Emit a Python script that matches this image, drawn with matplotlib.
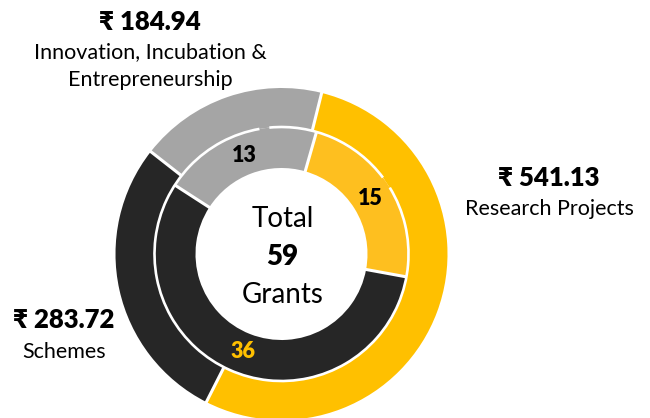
import numpy as np
import matplotlib
matplotlib.use('Agg')
from matplotlib import pyplot as plt
from matplotlib.patches import Arc

plt.rcParams['font.family'] = ['Lato', 'DejaVu Sans']

#### donnees
categories = ['Research Projects', 'Schemes', 'Innovation, Incubation &\nEntrepreneurship']
amounts = [541.13, 283.72, 184.94]   # outer ring (Rs)
grants = [15, 36, 13]                # inner ring (nb of grants)
total_grants = 59

outer_colors = ['#FFC000', '#262626', '#A5A5A5']
inner_colors = ['#FEBF1F', '#262626', '#A5A5A5']
grant_txt_colors = ['#000000', '#FFC000', '#000000']

W, H = 650, 418
fig = plt.figure(figsize=(W/100, H/100), dpi=100)
ax = fig.add_axes([0, 0, 1, 1])

cx, cy = 281.5, H - 254
R_out, R_mid, R_in = 166, 127, 86

w_out, _ = ax.pie(amounts, radius=R_out, center=(cx, cy), startangle=76, counterclock=False,
                  colors=outer_colors, frame=True,
                  wedgeprops=dict(width=R_out - R_mid, linewidth=0))
w_in, _ = ax.pie(grants, radius=R_mid, center=(cx, cy), startangle=74, counterclock=False,
                 colors=inner_colors, frame=True,
                 wedgeprops=dict(width=R_mid - R_in, linewidth=0))
ax.set_xlim(0, W)
ax.set_ylim(0, H)
ax.set_aspect('equal')
ax.axis('off')

# white separators between slices
def sep(wedges, r1, r2):
    for w in wedges:
        a = np.deg2rad(w.theta1)
        ax.plot([cx + r1*np.cos(a), cx + r2*np.cos(a)], [cy + r1*np.sin(a), cy + r2*np.sin(a)],
                color='white', linewidth=2.2, solid_capstyle='butt', zorder=4)
sep(w_out, R_mid, R_out + 3)
sep(w_in, R_in - 3, R_mid)

# white ring between the two donuts (with the two small breaks)
for t1, t2 in [(37, 95.5), (100, 391.5)]:
    ax.add_patch(Arc((cx, cy), 2*R_mid, 2*R_mid, theta1=t1, theta2=t2,
                     color='white', linewidth=1.9, zorder=5))

# counts in the inner ring
r_lab = 105
for w, g, c in zip(w_in, grants, grant_txt_colors):
    ang = np.deg2rad((w.theta1 + w.theta2) / 2)
    ax.text(cx + r_lab*np.cos(ang), cy + r_lab*np.sin(ang), str(g),
            ha='center', va='center', fontsize=15.5, fontweight='heavy', color=c, zorder=6)

# center text
ax.text(cx + 1, H - 219, 'Total', ha='center', va='center', fontsize=20)
ax.text(cx + 1, H - 257, str(total_grants), ha='center', va='center', fontsize=20, fontweight='heavy')
ax.text(cx + 1, H - 295, 'Grants', ha='center', va='center', fontsize=20)

# outer labels
lab_pos = [(549, 178, 209), (64, 320, 352), (150, 22, 52)]
for (x, y1, y2), cat, amt in zip(lab_pos, categories, amounts):
    ax.text(x, H - y1, '₹ %.2f' % amt, ha='center', va='center', fontsize=18.5, fontweight='heavy')
    for k, line in enumerate(cat.split('\n')):
        ax.text(x, H - y2 - 28*k, line, ha='center', va='center', fontsize=15.5)

plt.savefig('out.png', dpi=100)
